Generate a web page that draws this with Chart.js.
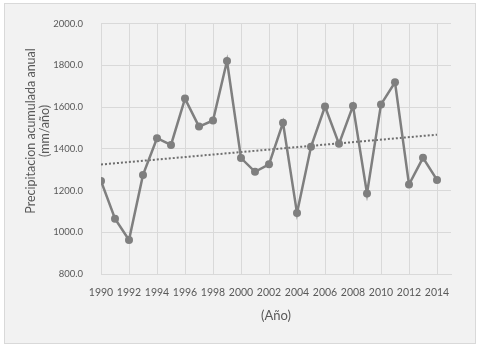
<!DOCTYPE html>
<html>
<head>
<meta charset="utf-8">
<script src="https://cdn.jsdelivr.net/npm/chart.js@4.4.1/dist/chart.umd.min.js"></script>
<style>
  body { margin: 0; background: #ffffff; }
  #wrap { width: 479px; height: 346px; position: relative; }
</style>
</head>
<body>
<div id="wrap"><canvas id="chart" width="479" height="346"></canvas></div>
<script>
// data
var years = [1990, 1991, 1992, 1993, 1994, 1995, 1996, 1997, 1998, 1999, 2000, 2001, 2002,
             2003, 2004, 2005, 2006, 2007, 2008, 2009, 2010, 2011, 2012, 2013, 2014];
var precip = [1246, 1065, 963, 1275, 1451, 1419, 1641, 1507, 1536, 1821, 1356, 1290, 1326,
              1525, 1092, 1410, 1603, 1424, 1606, 1186, 1613, 1719, 1229, 1357, 1251];
var trendYears = [1990, 2014];
var trendValues = [1325, 1468];
var yTitle = ['Precipitacion acumulada anual', '(mm/año)'];
var xTitle = '(Año)';

var grey = '#7f7f7f';
var gridColor = '#d9d9d9';
var textColor = '#595959';

// frame + y title drawn by hand so they sit where the original has them
var framePlugin = {
    id: 'frame',
    beforeDraw: function (chart) {
        var ctx = chart.ctx;
        ctx.save();
        ctx.fillStyle = '#f2f2f2';
        ctx.fillRect(4, 3, 471, 340);
        ctx.strokeStyle = '#d9d9d9';
        ctx.lineWidth = 1;
        ctx.strokeRect(4.5, 3.5, 471, 340);
        ctx.restore();
    },
    afterDraw: function (chart) {
        var ctx = chart.ctx;
        ctx.save();
        ctx.fillStyle = textColor;
        ctx.font = '12.5px Lato';
        ctx.textAlign = 'center';
        ctx.textBaseline = 'middle';
        ctx.translate(38, 131);
        ctx.rotate(-Math.PI / 2);
        ctx.fillText(yTitle[0], 0, -7);
        ctx.fillText(yTitle[1], 0, 7);
        ctx.restore();
    }
};

var ctx = document.getElementById('chart').getContext('2d');
var chart = new Chart(ctx, {
    type: 'line',
    data: {
        datasets: [{
            label: 'Precipitacion',
            data: years.map(function (y, i) { return {x: y, y: precip[i]}; }),
            borderColor: grey,
            backgroundColor: grey,
            borderWidth: 2.5,
            pointRadius: 4,
            pointBackgroundColor: grey,
            pointBorderColor: grey,
            pointBorderWidth: 0,
            tension: 0
        }, {
            label: 'Tendencia',
            data: trendYears.map(function (y, i) { return {x: y, y: trendValues[i]}; }),
            borderColor: '#6e6e6e',
            borderWidth: 2,
            borderDash: [2, 2],
            pointRadius: 0,
            tension: 0
        }]
    },
    options: {
        responsive: false,
        animation: false,
        layout: {padding: {left: 0, right: 28, top: 22, bottom: 0}},
        plugins: {legend: {display: false}, tooltip: {enabled: false}},
        scales: {
            x: {
                type: 'linear',
                min: 1990,
                max: 2015,
                afterFit: function (scale) { scale.height = 72; },
                ticks: {
                    stepSize: 2,
                    includeBounds: false,
                    padding: 12,
                    color: textColor,
                    font: {family: 'Lato', size: 10.5},
                    maxRotation: 0,
                    callback: function (v) { return String(v); }
                },
                grid: {color: gridColor, drawTicks: false, lineWidth: 1},
                border: {color: gridColor},
                title: {
                    display: true,
                    text: xTitle,
                    color: textColor,
                    font: {family: 'Lato', size: 13},
                    padding: {top: 0, bottom: 22}
                }
            },
            y: {
                min: 800,
                max: 2000,
                afterFit: function (scale) { scale.width = 101; },
                ticks: {
                    stepSize: 200,
                    padding: 18,
                    color: textColor,
                    font: {family: 'Lato', size: 9.5},
                    callback: function (v) { return v.toFixed(1); }
                },
                grid: {color: gridColor, drawTicks: false, lineWidth: 1},
                border: {color: gridColor}
            }
        }
    },
    plugins: [framePlugin]
});
</script>
</body>
</html>
